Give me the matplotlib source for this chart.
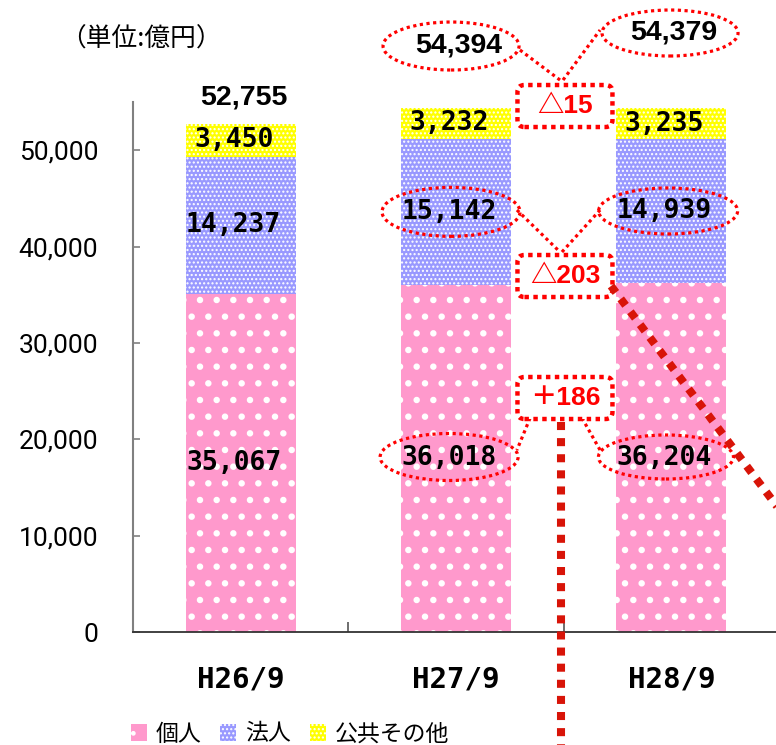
import numpy as np
import matplotlib
matplotlib.use('Agg')
import matplotlib.pyplot as plt
from matplotlib.patches import Ellipse, FancyBboxPatch, Patch
from matplotlib.transforms import ScaledTranslation
from matplotlib.ticker import FuncFormatter, FixedLocator

periods = ['H26/9', 'H27/9', 'H28/9']
kojin = [35067, 36018, 36204]
hojin = [14237, 15142, 14939]
kokyo = [3450, 3232, 3235]
totals = [52755, 54394, 54379]
series_names = ['個人', '法人', '公共その他']
diff_labels = ['△15', '△203', '＋186']

CJK = 'Noto Sans CJK JP'
MONO = 'DejaVu Sans Mono'

fig = plt.figure(figsize=(7.76, 7.45), dpi=100)
ax = fig.add_axes([133/776, 113/745, 646/776, 530/745])

x = np.arange(len(periods))
w = 0.51
colors = ['#ff99cc', '#9999ff', '#ffff00']
hatches = ['.', '....', '....']
hatch_lw = [2.2, 1.0, 1.0]

bottom = np.zeros(len(periods))
for vals, c, h, hl in zip([kojin, hojin, kokyo], colors, hatches, hatch_lw):
    vals = np.array(vals)
    with plt.rc_context({'hatch.linewidth': hl}):
        ax.bar(x, vals, w, bottom=bottom, color=c, edgecolor='white', linewidth=0, hatch=h, zorder=2)
    for xi, b, v in zip(x, bottom, vals):
        ax.annotate(f'{v:,}', (xi, b + v/2), xytext=(-5, 0), textcoords='offset points',
                    ha='center', va='center', fontfamily=MONO, fontweight='bold', fontsize=19, zorder=5)
    bottom += vals

ax.set_xlim(-0.5, 2.5)
ax.set_ylim(0, 55000)

# total labels
tot_off = [19, 45, 54]
for xi, t, off in zip(x, totals, tot_off):
    ax.annotate(f'{t:,}', (xi, t), xytext=(2, off), textcoords='offset points',
                ha='center', va='center', fontfamily='Liberation Sans', fontweight='bold',
                fontsize=20.5, zorder=5, annotation_clip=False)


def place(xd, yd):
    return fig.dpi_scale_trans + ScaledTranslation(xd, yd, ax.transData)


def oval(xd, yd, wpx, hpx):
    e = Ellipse((0, 0), wpx/100, hpx/100, transform=place(xd, yd), fill=False,
                ec='red', lw=2.3, ls=(0, (1, 1.1)), clip_on=False, zorder=6)
    ax.add_artist(e)


def box(xd, yd, txt):
    b = FancyBboxPatch((-0.475, -0.21), 0.95, 0.42, boxstyle='round,pad=0,rounding_size=0.07',
                       transform=place(xd, yd), fc='white', ec='red', lw=3.2,
                       ls=(0, (1, 1)), clip_on=False, zorder=6)
    ax.add_artist(b)
    ax.text(xd, yd, txt, ha='center', va='center', color='red', fontsize=19, fontweight='bold',
            fontfamily=['Liberation Sans', CJK], zorder=7, clip_on=False)


def dotline(xs, ys):
    ax.plot(xs, ys, color='red', lw=2.3, ls=(0, (1, 1.1)), clip_on=False, zorder=6)


# ovals around compared values
oval(0.977, 60810, 136, 48)
oval(1.994, 62160, 136, 46)
oval(0.977, 43600, 138, 49)
oval(1.985, 43690, 139, 46)
oval(0.968, 18160, 138, 47)
oval(1.975, 18160, 135, 44)

# connectors
dotline([1.297, 1.483], [60394, 57281])
dotline([1.497, 1.669], [57281, 62469])
dotline([1.283, 1.483], [43791, 39433])
dotline([1.492, 1.669], [39433, 43791])
dotline([1.344, 1.283], [22207, 18886])
dotline([1.585, 1.669], [22207, 18886])

box(1.506, 54583, diff_labels[0])
box(1.506, 36942, diff_labels[1])
box(1.506, 24282, diff_labels[2])

# thick dark red dotted lines
ax.plot([1.488, 1.488], [21792, -14000], color='#d81408', lw=5.8, ls=(0, (1, 1)),
        clip_on=False, zorder=8)
ax.plot([1.720, 2.598], [35904, 9858], color='#d81408', lw=5.8, ls=(0, (1, 1)),
        clip_on=False, zorder=8)

# axes styling
for s in ['top', 'right']:
    ax.spines[s].set_visible(False)
ax.spines['left'].set_color('#808080')
ax.spines['left'].set_linewidth(1.5)
ax.spines['bottom'].set_color('#333333')
ax.spines['bottom'].set_linewidth(1.3)

ax.set_yticks(np.arange(0, 50001, 10000))
ax.yaxis.set_major_formatter(FuncFormatter(lambda v, p: f'{int(v):,}'))
ax.tick_params(axis='y', direction='in', length=5, color='#808080', width=1.2, pad=25,
               labelsize=19)
for lab in ax.get_yticklabels():
    lab.set_fontfamily('Roboto')

ax.set_xticks(x)
ax.set_xticklabels(periods, fontfamily=MONO, fontweight='bold', fontsize=21)
ax.tick_params(axis='x', length=0, pad=24)
ax.xaxis.set_minor_locator(FixedLocator([0.5, 1.5]))
ax.tick_params(axis='x', which='minor', direction='in', length=7, color='#555555', width=1.2)

fig.text(60/776, 1 - 40/745, '（単位:億円）', ha='left', va='center', fontsize=18.5, fontfamily=CJK)

handles = [Patch(facecolor=c, edgecolor='white', hatch=h, lw=0) for c, h in zip(colors, hatches)]
fig.legend(handles, series_names, loc='center', bbox_to_anchor=(290/776, 11/745), ncol=3,
           frameon=False, prop={'family': CJK, 'size': 16.5}, handlelength=0.7,
           handleheight=0.7, handletextpad=0.4, columnspacing=0.8, borderpad=0)

fig.savefig('out.png', dpi=100)
